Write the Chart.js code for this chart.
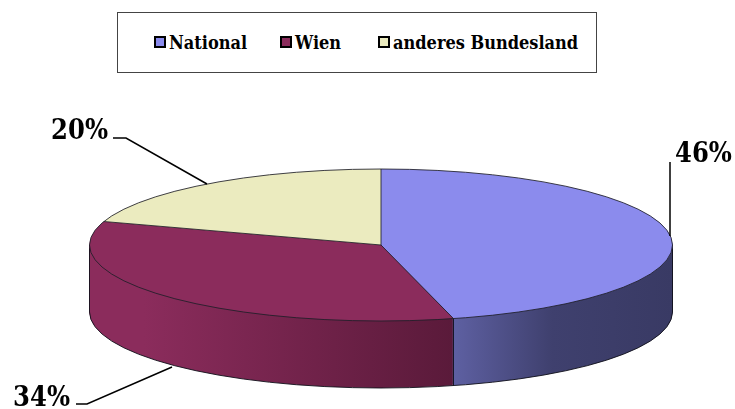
<!DOCTYPE html>
<html><head><meta charset="utf-8">
<script src="https://cdn.jsdelivr.net/npm/chart.js@4/dist/chart.umd.min.js"></script>
<style>
html,body{margin:0;padding:0;background:#fff;overflow:hidden;}
#wrap{position:relative;width:735px;height:409px;}
#c{position:absolute;left:0;top:0;}
#legend{position:absolute;left:117px;top:12px;width:480px;height:61px;box-sizing:border-box;border:1px solid #444;background:#fff;
  font-family:"DejaVu Serif Condensed","DejaVu Serif",serif;font-stretch:condensed;font-weight:bold;font-size:18px;color:#000;}
.item{position:absolute;top:17px;height:24px;display:flex;align-items:center;white-space:nowrap;}
.sw{width:8px;height:8px;border:2px solid #000;margin-right:3px;}
</style></head>
<body><div id="wrap"><canvas id="c" width="735" height="409"></canvas><div id="legend"></div></div>
<script>
const categories = ['National', 'Wien', 'anderes Bundesland'];
const values = [46, 34, 20];
const topColors = ['#8b8bed', '#8b2c5c', '#ebebbf'];
const sideStart = ['#5e60a2', '#8b2c5c', '#c9c99c'];
const sideEnd = ['#393a64', '#5a1a3a', '#9a9a72'];

const SQUASH = 76 / 291.5;
const DEPTH = 67;
const legendLeft = [36, 162, 260];

// legend
const lg = document.getElementById('legend');
categories.forEach((c, i) => {
  const it = document.createElement('div'); it.className = 'item'; it.style.left = legendLeft[i] + 'px';
  const sw = document.createElement('span'); sw.className = 'sw'; sw.style.background = topColors[i];
  const tx = document.createElement('span'); tx.textContent = c;
  it.appendChild(sw); it.appendChild(tx); lg.appendChild(it);
});

function squash(ctx, cy) { ctx.translate(0, cy); ctx.scale(1, SQUASH); ctx.translate(0, -cy); }

function frontRange(s, e) {
  for (let k = -1; k <= 1; k++) {
    const lo = Math.max(s, 2 * Math.PI * k), hi = Math.min(e, 2 * Math.PI * k + Math.PI);
    if (hi > lo) return [lo, hi];
  }
  return null;
}

const pie3d = {
  id: 'pie3d',
  beforeDatasetsDraw(chart) {
    const ctx = chart.ctx;
    const meta = chart.getDatasetMeta(0);
    const a0 = meta.data[0];
    const cx = a0.x, cy = a0.y, r = a0.outerRadius;
    const grads = meta.data.map((a, i) => {
      const fr = frontRange(a.startAngle, a.endAngle);
      let x1 = cx - r, x2 = cx + r;
      if (fr) { x1 = cx + r * Math.cos(fr[1]); x2 = cx + r * Math.cos(fr[0]); }
      const g = ctx.createLinearGradient(x1, 0, x2, 0);
      g.addColorStop(0, sideStart[i]);
      g.addColorStop(i === 0 ? 0.45 : 0.15, i === 0 ? '#3f406e' : sideStart[i]);
      g.addColorStop(1, sideEnd[i]);
      return g;
    });
    for (let d = DEPTH; d >= 1; d--) {
      ctx.save();
      ctx.translate(0, d);
      squash(ctx, cy);
      meta.data.forEach((a, i) => {
        const saved = a.options;
        a.options = Object.assign({}, saved, { backgroundColor: grads[i], borderWidth: 0 });
        a.draw(ctx);
        a.options = saved;
      });
      ctx.restore();
    }
    // side outlines
    ctx.save();
    ctx.beginPath();
    ctx.save(); ctx.translate(0, DEPTH); squash(ctx, cy);
    ctx.moveTo(cx + r, cy);
    ctx.arc(cx, cy, r, 0, Math.PI);
    ctx.restore();
    ctx.moveTo(cx - r, cy); ctx.lineTo(cx - r, cy + DEPTH);
    ctx.moveTo(cx + r, cy); ctx.lineTo(cx + r, cy + DEPTH);
    meta.data.forEach(a => {
      const ang = a.endAngle;
      const nrm = ((ang % (2 * Math.PI)) + 2 * Math.PI) % (2 * Math.PI);
      if (nrm > 0.001 && nrm < Math.PI - 0.001) {
        const x = cx + r * Math.cos(nrm), y = cy + r * SQUASH * Math.sin(nrm);
        ctx.moveTo(x, y); ctx.lineTo(x, y + DEPTH);
      }
    });
    ctx.strokeStyle = 'rgba(15,15,25,0.9)';
    ctx.lineWidth = 1;
    ctx.stroke();
    ctx.restore();
    // top transform
    ctx.save();
    squash(ctx, cy);
  },
  afterDatasetsDraw(chart) {
    const ctx = chart.ctx;
    ctx.restore();
    const meta = chart.getDatasetMeta(0);
    const a0 = meta.data[0];
    const cx = a0.x, cy = a0.y, r = a0.outerRadius;
    ctx.save();
    ctx.beginPath();
    ctx.save(); squash(ctx, cy);
    ctx.moveTo(cx + r, cy);
    ctx.arc(cx, cy, r, 0, Math.PI * 2);
    meta.data.forEach(a => {
      ctx.moveTo(cx, cy);
      ctx.lineTo(cx + r * Math.cos(a.startAngle), cy + r * Math.sin(a.startAngle));
    });
    ctx.restore();
    ctx.strokeStyle = 'rgba(30,30,40,0.85)';
    ctx.lineWidth = 1;
    ctx.stroke();
    ctx.restore();
  },
  afterDraw(chart) {
    const ctx = chart.ctx;
    const total = values.reduce((s, v) => s + v, 0);
    const labelLayout = [
      { x: 675, y: 162, align: 'left', line: [[670, 162], [670, 236]] },
      { x: 70, y: 406, align: 'right', line: [[76, 404], [87, 404], [172, 367]] },
      { x: 108, y: 139, align: 'right', line: [[113, 138], [126, 138], [207, 184]] }
    ];
    ctx.save();
    ctx.strokeStyle = '#000';
    ctx.lineWidth = 1.5;
    labelLayout.forEach((L, i) => {
      ctx.beginPath();
      L.line.forEach((p, j) => j ? ctx.lineTo(p[0], p[1]) : ctx.moveTo(p[0], p[1]));
      ctx.stroke();
      ctx.fillStyle = '#000';
      ctx.font = 'bold 27px "DejaVu Serif Condensed", "DejaVu Serif", serif';
      ctx.textAlign = L.align;
      ctx.textBaseline = 'alphabetic';
      ctx.fillText(Math.round(values[i] / total * 100) + '%', L.x, L.y);
    });
    ctx.restore();
  }
};

new Chart(document.getElementById('c'), {
  type: 'pie',
  data: {
    labels: categories,
    datasets: [{ data: values, backgroundColor: topColors, borderWidth: 0, radius: 291.5, clip: false, hoverOffset: 0 }]
  },
  options: {
    responsive: false,
    devicePixelRatio: 1,
    animation: false,
    events: [],
    layout: { padding: { left: 27, top: 81, right: 0, bottom: 0 } },
    plugins: { legend: { display: false }, tooltip: { enabled: false } }
  },
  plugins: [pie3d]
});
</script></body></html>
